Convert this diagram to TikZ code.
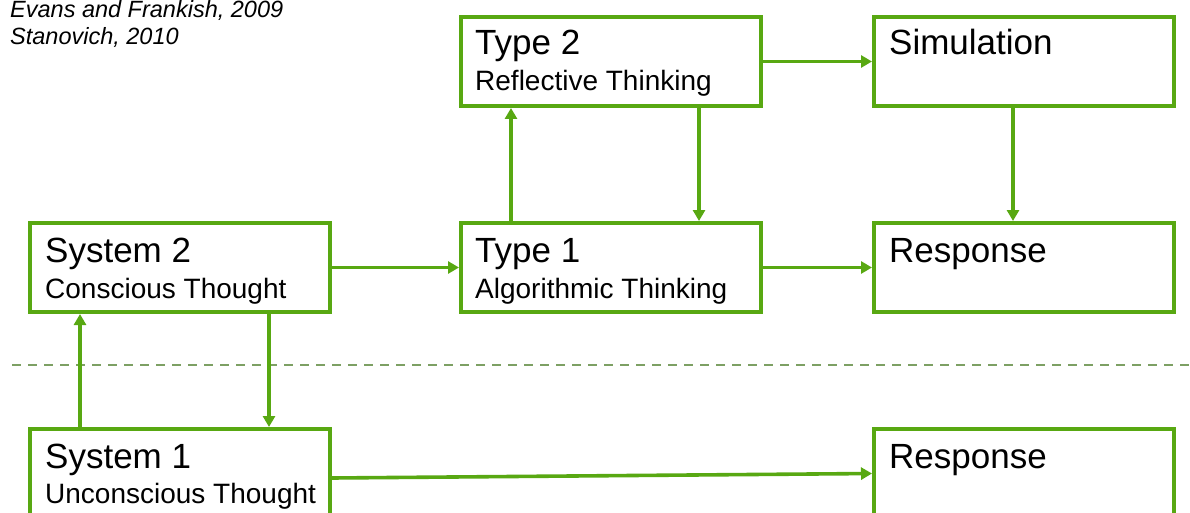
\documentclass[tikz,border=0pt]{standalone}
\usepackage{fontspec}
\setmainfont{Liberation Sans}
\usetikzlibrary{arrows.meta}
\definecolor{boxgreen}{RGB}{88,168,18}
\definecolor{dashgreen}{RGB}{125,160,100}
\begin{document}
\begin{tikzpicture}[x=1pt,y=-1pt,
  box/.style={draw=boxgreen, line width=4pt, minimum width=300pt,
    minimum height=89pt, anchor=north west, inner sep=0pt},
  big/.style={anchor=base west, inner sep=0pt, font=\fontsize{35}{40}\selectfont},
  small/.style={anchor=base west, inner sep=0pt, font=\fontsize{28}{32}\selectfont},
  cite/.style={anchor=base west, inner sep=0pt, font=\fontsize{23.5}{28}\selectfont\itshape},
  link/.style={draw=boxgreen, line width=3.6pt, -{Triangle[length=11pt,width=12pt]}},
]
\useasboundingbox (0,0) rectangle (1190,513);
\clip (0,0) rectangle (1190,513);

% references
\node[cite] (c1) at (10,18) {Evans and Frankish, 2009};
\node[cite] (c2) at (10,45) {Stanovich, 2010};

% boxes
\node[box] (t2)  at (459,15)  {};
\node[box] (sim) at (872,15)  {};
\node[box] (s2)  at (28,221)  {};
\node[box] (t1)  at (459,221) {};
\node[box] (r1)  at (872,221) {};
\node[box] (s1)  at (28,427)  {};
\node[box] (r2)  at (872,427) {};

% box labels
\node[big]   (t2a) at (475,55)  {Type 2};
\node[small] (t2b) at (475,91)  {Reflective Thinking};
\node[big]   (sima) at (889,55) {Simulation};
\node[big]   (s2a) at (45,262)  {System 2};
\node[small] (s2b) at (45,298)  {Conscious Thought};
\node[big]   (t1a) at (475,262) {Type 1};
\node[small] (t1b) at (475,298) {Algorithmic Thinking};
\node[big]   (r1a) at (889,262) {Response};
\node[big]   (s1a) at (45,468)  {System 1};
\node[small] (s1b) at (45,503)  {Unconscious Thought};
\node[big]   (r2a) at (889,468) {Response};

% conscious / unconscious divider
\draw[dashgreen, line width=2.4pt, dash pattern=on 9pt off 7pt] (12,365) -- (1190,365);

% connectors
\draw[link] (t2) -- (sim);
\draw[link] (s2) -- (t1);
\draw[link] (t1) -- (r1);
\draw[link] ([xshift=-100pt]t1.north) -- ([xshift=-100pt]t2.south);
\draw[link] ([xshift=88pt]t2.south) -- ([xshift=88pt]t1.north);
\draw[link] ([xshift=-11pt]sim.south) -- ([xshift=-11pt]r1.north);
\draw[link] ([xshift=-100pt]s1.north) -- ([xshift=-100pt]s2.south);
\draw[link] ([xshift=89pt]s2.south) -- ([xshift=89pt]s1.north);
\draw[link] ([yshift=-4.5pt]s1.east) -- (r2.west);
\end{tikzpicture}
\end{document}
